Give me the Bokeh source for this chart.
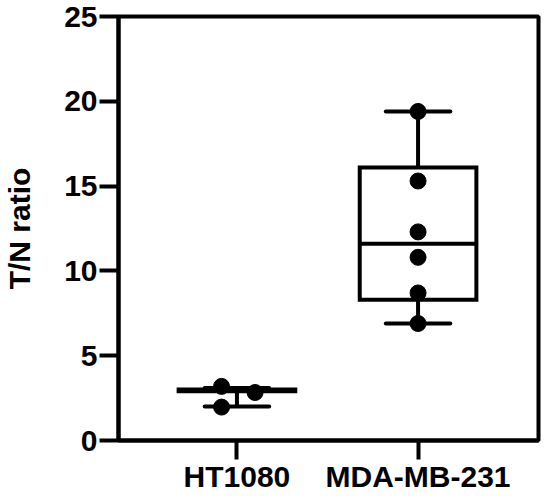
from bokeh.plotting import figure
from bokeh.models import Range1d, FixedTicker
from bokeh.embed import file_html
from bokeh.resources import INLINE

categories = ["HT1080", "MDA-MB-231"]
positions = [1, 2]
ht_values = [3.19, 2.83, 1.97]
ht_jitter = [-0.085, 0.10, -0.085]
mda_values = [19.4, 15.3, 12.3, 10.8, 8.7, 6.9]
mda_jitter = [0, 0, 0, 0, 0, 0]
q1 = [2.90, 8.3]
median = [2.95, 11.6]
q3 = [3.00, 16.1]
low = [2.00, 6.9]
high = [3.10, 19.4]
y_ticks = [0, 5, 10, 15, 20, 25]

FONT = "Liberation Sans"
LW = 4
BOX_HALF = 0.322
CAP_HALF = 0.178

p = figure(width=550, height=496, output_backend="svg", toolbar_location=None,
           x_range=Range1d(0.346, 2.665), y_range=Range1d(0, 25),
           min_border_left=116, min_border_right=12, min_border_top=16, min_border_bottom=56)
p.grid.visible = False
p.outline_line_color = "black"
p.outline_line_width = LW
p.background_fill_color = "white"
p.border_fill_color = "white"

# boxes
for i, x in enumerate(positions):
    p.quad(left=[x - BOX_HALF], right=[x + BOX_HALF], bottom=[q1[i]], top=[q3[i]],
           fill_color=None, line_color="black", line_width=LW, line_join="miter")
    p.segment(x0=[x - BOX_HALF], x1=[x + BOX_HALF], y0=[median[i]], y1=[median[i]],
              line_color="black", line_width=LW)
    p.segment(x0=[x, x], x1=[x, x], y0=[q3[i], q1[i]], y1=[high[i], low[i]],
              line_color="black", line_width=LW)
    p.segment(x0=[x - CAP_HALF, x - CAP_HALF], x1=[x + CAP_HALF, x + CAP_HALF],
              y0=[high[i], low[i]], y1=[high[i], low[i]],
              line_color="black", line_width=LW, line_cap="round")

p.scatter([positions[0] + j for j in ht_jitter], ht_values, size=16, color="black")
p.scatter([positions[1] + j for j in mda_jitter], mda_values, size=16, color="black")

for ax in (p.xaxis[0], p.yaxis[0]):
    ax.axis_line_width = LW
    ax.axis_line_color = "black"
    ax.major_tick_line_width = LW
    ax.major_tick_line_color = "black"
    ax.major_tick_in = 0
    ax.minor_tick_line_color = None
    ax.major_label_text_font = FONT
    ax.major_label_text_font_style = "bold"
    ax.major_label_text_font_size = "30px"
    ax.major_label_text_color = "black"

p.yaxis.ticker = FixedTicker(ticks=y_ticks)
p.yaxis.major_tick_out = 19
p.yaxis.major_label_standoff = 2
p.yaxis.axis_label = "T/N ratio"
p.yaxis.axis_label_text_font = FONT
p.yaxis.axis_label_text_font_style = "bold"
p.yaxis.axis_label_text_font_size = "30px"
p.yaxis.axis_label_text_color = "black"
p.yaxis.axis_label_standoff = 25

p.xaxis.ticker = FixedTicker(ticks=positions)
p.xaxis.major_label_overrides = {pos: c for pos, c in zip(positions, categories)}
p.xaxis.major_tick_out = 19
p.xaxis.major_label_standoff = 0

open("out.html", "w").write(file_html(p, INLINE))
